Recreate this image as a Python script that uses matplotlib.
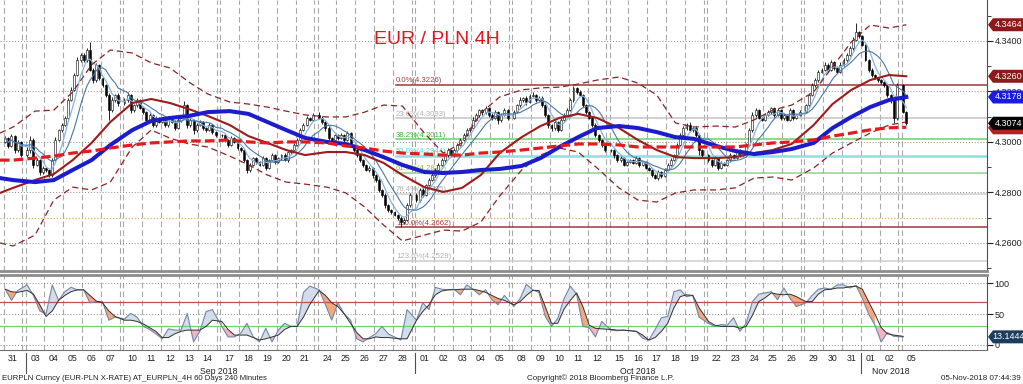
import numpy as np
import pandas as pd
import matplotlib
matplotlib.use('Agg')
import matplotlib.pyplot as plt
from matplotlib.patches import Polygon
from matplotlib.transforms import IdentityTransform, blended_transform_factory

plt.rcParams['font.family'] = ['Liberation Sans', 'DejaVu Sans']

days = pd.bdate_range('2018-08-31', '2018-11-05')
bars_per_day = [6] * 46 + [2]

# 4H closes, one row per trading day
close = [
    4.3015, 4.2984, 4.3023, 4.2968, 4.3000, 4.2948,   # 31 Aug
    4.2968, 4.3008, 4.2909, 4.2928, 4.2881, 4.2897,   # 03 Sep
    4.2889, 4.2869, 4.2928, 4.3008, 4.3047, 4.3067,
    4.3095, 4.3166, 4.3206, 4.3265, 4.3324, 4.3344,
    4.3324, 4.3364, 4.3285, 4.3245, 4.3305, 4.3253,
    4.3225, 4.3186, 4.3126, 4.3166, 4.3186, 4.3154,
    4.3166, 4.3186, 4.3126, 4.3146, 4.3166, 4.3134,   # 10 Sep
    4.3118, 4.3087, 4.3107, 4.3067, 4.3095, 4.3079,
    4.3087, 4.3067, 4.3095, 4.3079, 4.3055, 4.3087,
    4.3095, 4.3146, 4.3067, 4.3087, 4.3047, 4.3067,
    4.3079, 4.3055, 4.3047, 4.3067, 4.3039, 4.3027,
    4.3027, 4.3008, 4.2988, 4.3015, 4.3000, 4.2976,   # 17 Sep
    4.2968, 4.2928, 4.2889, 4.2909, 4.2936, 4.2920,
    4.2909, 4.2936, 4.2897, 4.2928, 4.2948, 4.2920,
    4.2936, 4.2948, 4.2928, 4.2960, 4.2968, 4.2988,
    4.3008, 4.3047, 4.3067, 4.3095, 4.3087, 4.3107,
    4.3095, 4.3079, 4.3055, 4.3015, 4.3008, 4.3027,   # 24 Sep
    4.3015, 4.3027, 4.3008, 4.3035, 4.2988, 4.2968,
    4.2948, 4.2928, 4.2909, 4.2889, 4.2897, 4.2869,
    4.2850, 4.2810, 4.2790, 4.2750, 4.2730, 4.2722,
    4.2711, 4.2699, 4.2683, 4.2691, 4.2750, 4.2790,
    4.2770, 4.2810, 4.2790, 4.2830, 4.2850, 4.2869,   # 01 Oct
    4.2889, 4.2909, 4.2928, 4.2948, 4.2968, 4.2948,
    4.2968, 4.2988, 4.3008, 4.3027, 4.3047, 4.3055,
    4.3087, 4.3107, 4.3126, 4.3118, 4.3134, 4.3107,
    4.3095, 4.3118, 4.3087, 4.3107, 4.3126, 4.3095,
    4.3118, 4.3146, 4.3166, 4.3174, 4.3158, 4.3182,   # 08 Oct
    4.3186, 4.3166, 4.3174, 4.3146, 4.3107, 4.3067,
    4.3055, 4.3079, 4.3047, 4.3087, 4.3107, 4.3126,
    4.3166, 4.3214, 4.3198, 4.3186, 4.3146, 4.3118,
    4.3095, 4.3067, 4.3027, 4.3008, 4.2988, 4.2968,
    4.2968, 4.2948, 4.2928, 4.2936, 4.2909, 4.2920,   # 15 Oct
    4.2928, 4.2917, 4.2936, 4.2909, 4.2920, 4.2897,
    4.2889, 4.2869, 4.2857, 4.2881, 4.2865, 4.2889,
    4.2909, 4.2928, 4.2948, 4.2988, 4.3027, 4.3055,
    4.3067, 4.3047, 4.3055, 4.3027, 4.2968, 4.2948,
    4.2928, 4.2909, 4.2936, 4.2897, 4.2917, 4.2909,   # 22 Oct
    4.2928, 4.2948, 4.2936, 4.2968, 4.2948, 4.2960,
    4.2988, 4.3047, 4.3107, 4.3126, 4.3095, 4.3087,
    4.3107, 4.3118, 4.3134, 4.3107, 4.3126, 4.3095,
    4.3107, 4.3087, 4.3126, 4.3095, 4.3107, 4.3118,
    4.3146, 4.3186, 4.3225, 4.3245, 4.3277, 4.3285,   # 29 Oct
    4.3305, 4.3285, 4.3317, 4.3293, 4.3277, 4.3305,
    4.3324, 4.3344, 4.3372, 4.3404, 4.3435, 4.3419,
    4.3384, 4.3324, 4.3285, 4.3265, 4.3253, 4.3245,
    4.3237, 4.3225, 4.3186, 4.3166, 4.3095, 4.3225,
    4.3118, 4.3074,                                   # 05 Nov
]
open0 = 4.3000

# wick lengths above / below the body, in pips
wick_hi = [
    8, 6, 10, 5, 7, 4,    12, 15, 6, 8, 5, 6,   5, 4, 8, 10, 6, 7,
    6, 8, 10, 8, 12, 10,  10, 8, 32, 6, 9, 5,   5, 6, 8, 10, 5, 6,
    8, 10, 5, 6, 7, 5,    5, 6, 8, 4, 6, 5,     6, 4, 8, 5, 6, 7,
    5, 15, 6, 8, 5, 6,    6, 5, 4, 8, 5, 4,     5, 6, 4, 7, 5, 6,
    4, 6, 5, 8, 6, 5,     6, 8, 5, 6, 7, 5,     5, 6, 8, 5, 6, 7,
    8, 10, 6, 8, 5, 7,    10, 6, 5, 8, 4, 6,    6, 8, 5, 10, 6, 5,
    5, 6, 4, 5, 6, 4,     5, 6, 4, 6, 5, 6,     4, 5, 6, 8, 10, 6,
    8, 6, 7, 5, 6, 8,     6, 8, 10, 6, 8, 5,    7, 6, 8, 10, 8, 6,
    10, 8, 6, 5, 8, 6,    6, 10, 5, 8, 7, 6,    8, 6, 10, 5, 8, 6,
    10, 5, 8, 6, 5, 4,    5, 8, 4, 6, 8, 10,    8, 8, 5, 6, 4, 5,
    5, 4, 6, 5, 4, 6,     5, 6, 4, 8, 5, 6,     6, 5, 8, 4, 6, 5,
    5, 4, 6, 8, 5, 6,     6, 8, 5, 6, 8, 10,    8, 10, 6, 8, 5, 4,
    5, 6, 8, 4, 6, 5,     6, 8, 5, 6, 5, 6,     6, 8, 10, 8, 6, 5,
    8, 10, 6, 5, 8, 6,    6, 5, 8, 6, 5, 8,     6, 8, 10, 8, 6, 8,
    10, 6, 8, 5, 8, 10,   8, 10, 8, 10, 36, 6,  6, 5, 4, 6, 5, 6,
    5, 6, 4, 5, 6, 8,     6, 5,
]
wick_lo = [
    6, 8, 5, 10, 6, 8,    8, 10, 12, 6, 10, 8,  10, 8, 6, 5, 4, 6,
    5, 6, 4, 6, 5, 8,     6, 8, 5, 10, 6, 8,    8, 10, 40, 8, 6, 10,
    6, 8, 10, 6, 8, 5,    6, 8, 5, 6, 8, 5,     5, 6, 8, 5, 6, 5,
    8, 5, 10, 6, 15, 6,   5, 6, 8, 5, 6, 8,     6, 5, 8, 6, 5, 6,
    8, 6, 12, 8, 5, 6,    6, 5, 8, 6, 5, 6,     5, 6, 5, 8, 6, 5,
    4, 6, 5, 4, 6, 5,     5, 8, 10, 6, 8, 5,    6, 5, 8, 5, 8, 6,
    8, 6, 8, 6, 8, 10,    8, 10, 8, 10, 8, 6,   6, 8, 21, 6, 5, 6,
    8, 6, 10, 6, 5, 6,    6, 5, 6, 8, 6, 5,     6, 8, 5, 6, 5, 6,
    5, 6, 8, 10, 6, 8,    10, 6, 15, 8, 6, 8,   6, 5, 8, 6, 10, 5,
    6, 8, 5, 6, 8, 10,    10, 6, 8, 5, 6, 5,    5, 6, 8, 6, 8, 6,
    6, 8, 6, 10, 8, 6,    8, 10, 6, 8, 6, 5,    5, 6, 5, 8, 5, 6,
    6, 8, 5, 6, 8, 5,     5, 6, 4, 5, 6, 5,     6, 5, 8, 6, 20, 8,
    6, 8, 5, 10, 6, 5,    5, 6, 8, 5, 6, 5,     6, 5, 6, 8, 5, 6,
    6, 5, 8, 10, 6, 8,    8, 6, 5, 8, 6, 5,     5, 6, 5, 6, 8, 5,
    6, 8, 5, 10, 6, 5,    5, 6, 5, 6, 5, 8,     6, 5, 8, 6, 5, 6,
    6, 8, 10, 12, 20, 8,  5, 8,
]

# slow averages and bollinger bands: left edge, middle of each day, last bar
ma_blue = [4.2857, 4.2849, 4.2841, 4.2849, 4.2889, 4.2928, 4.2988, 4.3047, 4.3083, 4.3095,
           4.3103, 4.3118, 4.3122, 4.3111, 4.3079, 4.3047, 4.3016, 4.3000, 4.2992, 4.2968,
           4.2940, 4.2909, 4.2881, 4.2877, 4.2881, 4.2889, 4.2893, 4.2905, 4.2936, 4.2980,
           4.3019, 4.3055, 4.3063, 4.3055, 4.3039, 4.3019, 4.3012, 4.2984, 4.2964, 4.2952,
           4.2960, 4.2972, 4.2996, 4.3055, 4.3099, 4.3138, 4.3166, 4.3178]
ma_dash = [4.2928, 4.2928, 4.2936, 4.2944, 4.2956, 4.2964, 4.2976, 4.2988, 4.2996, 4.3000,
           4.3004, 4.3004, 4.3008, 4.3000, 4.2996, 4.3000, 4.3000, 4.2996, 4.2984, 4.2976,
           4.2964, 4.2956, 4.2952, 4.2948, 4.2948, 4.2956, 4.2960, 4.2968, 4.2976, 4.2984,
           4.2992, 4.2992, 4.2988, 4.2980, 4.2980, 4.2980, 4.2980, 4.2980, 4.2980, 4.2988,
           4.2996, 4.3000, 4.3008, 4.3023, 4.3035, 4.3048, 4.3056, 4.3058]
ma_dark = [4.2798, 4.2818, 4.2849, 4.2873, 4.2928, 4.2996, 4.3079, 4.3154, 4.3170, 4.3154,
           4.3130, 4.3103, 4.3067, 4.3023, 4.2996, 4.2968, 4.2948, 4.2960, 4.2960, 4.2948,
           4.2917, 4.2869, 4.2821, 4.2802, 4.2818, 4.2869, 4.2956, 4.3019, 4.3063, 4.3095,
           4.3111, 4.3095, 4.3055, 4.3008, 4.2968, 4.2940, 4.2936, 4.2936, 4.2940, 4.2956,
           4.2968, 4.2992, 4.3067, 4.3150, 4.3206, 4.3245, 4.3265, 4.3260]
bb_up = [4.3035, 4.3059, 4.3122, 4.3126, 4.3198, 4.3305, 4.3364, 4.3352, 4.3313, 4.3293,
         4.3237, 4.3190, 4.3158, 4.3150, 4.3138, 4.3122, 4.3107, 4.3099, 4.3099, 4.3118,
         4.3146, 4.3142, 4.3035, 4.2956, 4.2996, 4.3115, 4.3178, 4.3206, 4.3214, 4.3217,
         4.3229, 4.3245, 4.3257, 4.3233, 4.3186, 4.3075, 4.3059, 4.3063, 4.3059, 4.3087,
         4.3126, 4.3146, 4.3198, 4.3297, 4.3396, 4.3463, 4.3451, 4.3464]
bb_lo = [4.2600, 4.2588, 4.2631, 4.2770, 4.2821, 4.2810, 4.2841, 4.2980, 4.3047, 4.3015,
         4.2992, 4.2980, 4.2944, 4.2909, 4.2869, 4.2841, 4.2833, 4.2821, 4.2798, 4.2742,
         4.2671, 4.2608, 4.2631, 4.2651, 4.2647, 4.2683, 4.2786, 4.2889, 4.2948, 4.2976,
         4.2960, 4.2897, 4.2818, 4.2770, 4.2762, 4.2798, 4.2810, 4.2810, 4.2818, 4.2857,
         4.2861, 4.2849, 4.2897, 4.2956, 4.2996, 4.3035, 4.3067, 4.3079]

# stochastic %K / %D, read at every second bar
stoch_k = [90, 72, 88,  97, 80, 55,  50, 97, 72,  86, 93, 89,  89, 68, 70,  70, 40, 45,
           42, 51, 45,  30, 25, 18,  10, 26, 24,  24, 51, 5,   22, 54, 57,  30, 13, 13,
           19, 35, 13,  5, 27, 5,    24, 35, 30,  30, 85, 95,  89, 65, 40,  68, 50, 40,
           10, 5, 12,   18, 30, 18,  13, 8, 57,   40, 68, 57,  93, 90, 89,  90, 81, 97,
           90, 81, 89,  73, 65, 80,  62, 75, 98,  89, 85, 46,  30, 43, 75,  95, 82, 30,
           28, 13, 38,  24, 23, 24,  23, 22, 11,  8, 25, 44,   46, 86, 89,  78, 80, 45,
           35, 30, 33,  32, 44, 22,  35, 70, 82,  84, 86, 73,  92, 75, 62,  68, 80, 90,
           92, 90, 97,  97, 92, 96,  75, 50, 32,  5, 20, 14,   13]
stoch_d = [90, 86, 85,  88, 82, 65,  46, 55, 72,  80, 86, 89,  89, 80, 71,  68, 55, 46,
           40, 40, 38,  34, 28, 22,  12, 12, 18,  22, 24, 24,  24, 30, 40,  38, 25, 16,
           16, 16, 12,  8, 10, 13,   16, 25, 30,  30, 45, 65,  88, 80, 68,  62, 50, 35,
           20, 10, 10,  13, 12, 12,  11, 10, 10,  40, 54, 65,  81, 87, 89,  89, 90, 90,
           90, 88, 85,  80, 75, 72,  65, 70, 80,  88, 88, 62,  35, 35, 58,  72, 84, 62,
           32, 27, 26,  25, 24, 24,  23, 22, 16,  8, 12, 22,   35, 60, 78,  81, 80, 60,
           38, 32, 30,  30, 30, 27,  30, 48, 70,  76, 84, 82,  81, 82, 78,  70, 70, 82,
           89, 90, 92,  92, 94, 95,  90, 70, 50,  28, 18, 16,  14]
stoch_last = 13.1444

fib_pct = [0.0, 23.6, 38.2, 50.0, 61.8, 76.4, 100.0, 123.6]
fib_col = ['#a03838', '#c4c4c4', '#6ccf6c', '#8edfdf', '#8fd28f', '#cfcfcf', '#a03838', '#cdcdcd']
fib_txt = ['#a04040', '#b4b4b4', '#3cbf3c', '#5fcfcf', '#8cc43c', '#b0b0b0', '#a04040', '#b4b4b4']
fib_top, fib_bottom = 4.3226, 4.2662

# ---- x positions: 6 bars a day, one empty slot over each weekend
gap = np.r_[0, (np.diff(days.values).astype('timedelta64[D]').astype(int) > 1).cumsum()]
start = 6 * np.arange(len(days)) + gap
bar_x = np.concatenate([start[i] + np.arange(n) + 0.5 for i, n in enumerate(bars_per_day)])
mid = start + 3
XL = (-1.15, 313.2)
ma_x = np.r_[XL[0], mid[:46], bar_x[-1]]
stoch_x = np.concatenate([start[i] + np.arange(0, n, 2) + 0.5 for i, n in enumerate(bars_per_day)])

c = np.array(close)
o = np.r_[open0, c[:-1]]
hi = np.maximum(o, c) + np.array(wick_hi) * 1e-4
lo = np.minimum(o, c) - np.array(wick_lo) * 1e-4
K = np.array(stoch_k, float)
D = np.array(stoch_d, float)

fig = plt.figure(figsize=(10.23, 3.84), dpi=100)
ax = fig.add_axes([0, 0.2943, 0.9648, 0.7057])
ax2 = fig.add_axes([0, 0.0885, 0.9648, 0.1966])

weekend = np.r_[False, np.diff(gap) > 0]
grid_x = np.r_[start, start[weekend] - 1]
for a in (ax, ax2):
    for gx in grid_x:
        a.axvline(gx, color='#a8a8a8', lw=0.8, ls=(0, (5, 3)), zorder=0.5)
    a.set_xlim(*XL)
    a.spines['left'].set_visible(False)
    a.spines['right'].set_color('#505050')

# ---- main panel
for lev in np.arange(4.26, 4.341, 0.02):
    ax.axhline(lev, color='#8c8c8c', lw=0.7, ls=(0, (1, 2)), zorder=0.6)
ax.axhline(4.27, color='#e8b060', lw=0.9, ls=(0, (1, 1.5)), zorder=0.7)

i_low = int(np.argmin(lo))
fib_x0 = bar_x[i_low] - 1.5
for pct, lc, tc in zip(fib_pct, fib_col, fib_txt):
    lev = fib_top - pct / 100 * (fib_top - fib_bottom)
    ax.plot([fib_x0, XL[1]], [lev, lev], color=lc, lw=1.8 if pct == 50.0 else 1.1, zorder=1)
    ax.text(fib_x0, lev + 0.0003, '%.1f%%(%.4f)' % (pct, lev), color=tc, fontsize=5.6,
            va='bottom', ha='left', zorder=1.2)

up = c >= o
body_lo = np.minimum(o, c)
body_h = np.maximum(np.abs(c - o), 0.00005)
ax.vlines(bar_x, lo, hi, color='black', lw=0.6, zorder=2.9)
ax.bar(bar_x, body_h, bottom=body_lo, width=0.62, color=np.where(up, 'white', 'black'),
       edgecolor='black', linewidth=0.4, zorder=3)

sc = pd.Series(c)
ax.plot(bar_x, sc.rolling(5, min_periods=1).mean(), color='#86b4e2', lw=0.9, zorder=4)
ax.plot(bar_x, sc.rolling(10, min_periods=1).mean(), color='#4a77a8', lw=0.8, zorder=4)
ax.plot(ma_x, bb_up, color='#8b2323', lw=0.9, ls=(0, (5, 3)), zorder=4)
ax.plot(ma_x, bb_lo, color='#8b2323', lw=0.9, ls=(0, (5, 3)), zorder=4)
ax.plot(ma_x, ma_dark, color='#9e1b1b', lw=1.5, zorder=5)
ax.plot(ma_x, ma_blue, color='#1c1ccc', lw=2.9, zorder=6)
ax.plot(ma_x, ma_dash, color='#e41a1c', lw=2.3, ls=(0, (3, 1.3)), zorder=7)

ax.set_ylim(4.2489, 4.3562)
ax.yaxis.tick_right()
ax.set_yticks(np.arange(4.26, 4.341, 0.02))
ax.set_yticks(np.arange(4.25, 4.351, 0.01), minor=True)
ax.set_yticklabels(['%.4f' % v for v in np.arange(4.26, 4.341, 0.02)])
ax.tick_params(axis='y', which='both', direction='out', length=4, labelsize=6.5, pad=1.5,
               colors='#202020')
ax.tick_params(axis='y', which='minor', length=3)
ax.set_xticks([])
ax.spines['top'].set_visible(False)
ax.spines['bottom'].set_color('#8c8c8c')
ax.spines['bottom'].set_linewidth(2.0)

fig.text(437 / 1023, 1 - 39 / 384, 'EUR / PLN 4H', color='#e3141e', fontsize=14,
         ha='center', va='center')

# ---- stochastic panel
ax2.fill_between(stoch_x, K, D, where=K >= D, color='#d3dce8', interpolate=True, lw=0)
ax2.fill_between(stoch_x, K, D, where=(K < D) & (D >= 35), color='#f6a77c', interpolate=True, lw=0)
ax2.fill_between(stoch_x, K, D, where=(K < D) & (D < 35), color='#f4b3c3', interpolate=True, lw=0)
for lev in (0, 50, 100):
    ax2.axhline(lev, color='#8c8c8c', lw=0.7, ls=(0, (1, 2)), zorder=0.6)
ax2.axhline(70, color='#c0504d', lw=0.9, zorder=1)
ax2.axhline(30, color='#6fd36f', lw=0.9, zorder=1)
ax2.plot(stoch_x, K, color='#7088a8', lw=0.8, zorder=3)
ax2.plot(stoch_x, D, color='#303030', lw=0.7, zorder=3)
ax2.set_ylim(-8.1, 113.7)
ax2.yaxis.tick_right()
ax2.set_yticks([0, 50, 100])
ax2.tick_params(axis='y', direction='out', length=4, labelsize=6.5, pad=1.5, colors='#202020')
ax2.set_xticks(mid)
ax2.set_xticklabels(days.strftime('%d'))
ax2.tick_params(axis='x', length=0, labelsize=6.3, pad=3, colors='#202020')
ax2.spines['top'].set_color('#8c8c8c')
ax2.spines['top'].set_linewidth(2.0)
ax2.spines['bottom'].set_color('#707070')

bt = blended_transform_factory(ax2.transData, ax2.transAxes)
for m in (9, 10, 11):
    sel = np.where(days.month == m)[0]
    ax2.text((mid[sel[0]] + mid[sel[-1]]) / 2, -0.28, days[sel[0]].strftime('%b %Y'),
             transform=bt, ha='center', va='center', fontsize=6.3, color='#202020')
    ax2.plot([start[sel[0]]] * 2, [-0.04, -0.31], transform=bt, color='#505050', lw=0.8,
             clip_on=False)


def tag(a, y, text, color):
    x1 = a.bbox.x1
    yd = a.transData.transform((0, y))[1]
    pts = [(x1 + 1, yd), (x1 + 6, yd + 6.5), (1023, yd + 6.5), (1023, yd - 6.5), (x1 + 6, yd - 6.5)]
    fig.add_artist(Polygon(pts, closed=True, transform=IdentityTransform(), facecolor=color,
                           edgecolor='none', zorder=5))
    if text:
        fig.text((x1 + 6 + 1023) / 2 + 0.5, yd, text, transform=IdentityTransform(),
                 color='white', fontsize=6.5, ha='center', va='center', zorder=6)


tag(ax, bb_up[-1], '%.4f' % bb_up[-1], '#8b1a1a')
tag(ax, ma_dark[-1], '%.4f' % ma_dark[-1], '#8b1a1a')
tag(ax, ma_blue[-1], '%.4f' % ma_blue[-1], '#1a1ae0')
# the dashed average's tag sits almost wholly under the last-price tag
tag(ax, ma_dash[-1] - 0.0002, '', '#b22020')
tag(ax, close[-1], '%.4f' % close[-1], '#050505')
tag(ax2, stoch_last, '%.4f' % stoch_last, '#1d3d5e')

fig.text(2 / 1023, 6 / 384, 'EURPLN Curncy (EUR-PLN X-RATE) AT_EURPLN_4H 60 Days 240 Minutes',
         fontsize=5.6, color='#202020', va='center', ha='left')
fig.text(527 / 1023, 6 / 384, 'Copyright\u00a9 2018 Bloomberg Finance L.P.',
         fontsize=5.8, color='#202020', va='center', ha='left')
fig.text(1021 / 1023, 6 / 384, '05-Nov-2018 07:44:39', fontsize=5.8, color='#202020',
         va='center', ha='right')

fig.savefig('out.png', dpi=100)
